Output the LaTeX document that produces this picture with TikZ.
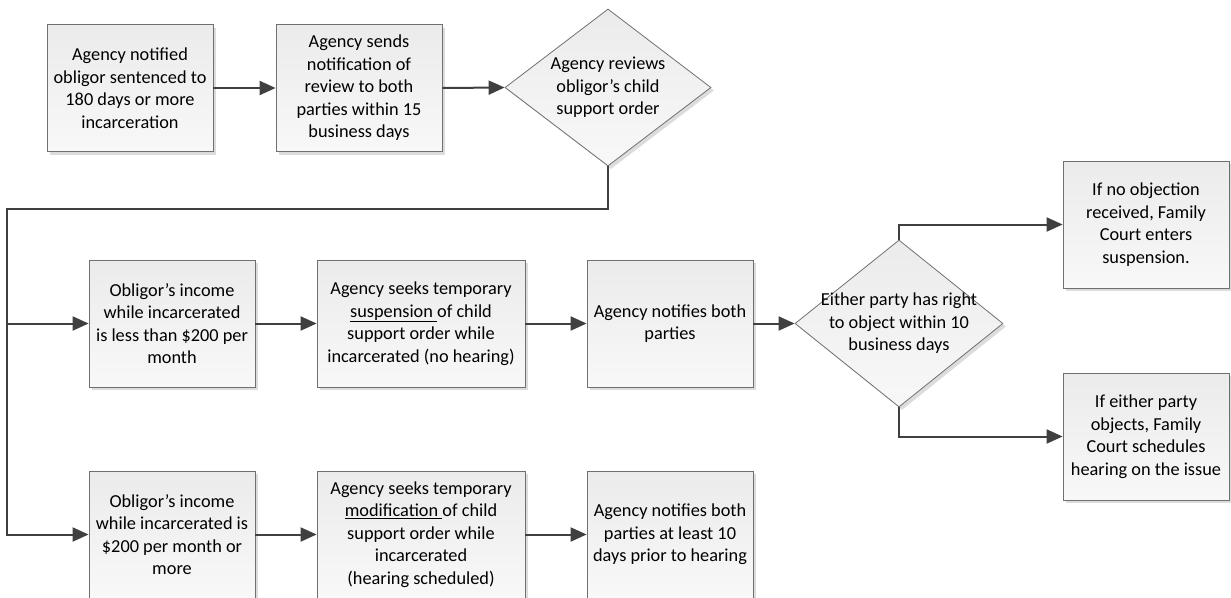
\documentclass[tikz,border=0pt]{standalone}
\usepackage{fontspec}
\setmainfont{Carlito}
\usetikzlibrary{shapes.geometric,shadows,arrows.meta}
\definecolor{conncol}{HTML}{404040}
\definecolor{edgecol}{HTML}{707070}
\definecolor{shadecol}{HTML}{DCDCDC}
\definecolor{filltop}{HTML}{EBEBEB}
\definecolor{fillbot}{HTML}{F8F8F8}
\tikzset{
  procbox/.style={rectangle, draw=edgecol, line width=0.8pt, top color=filltop, bottom color=fillbot,
    minimum width=166pt, minimum height=127pt, inner sep=0pt, align=center,
    drop shadow={shadow xshift=3pt, shadow yshift=-3pt, fill=shadecol, opacity=1}},
  widebox/.style={procbox, minimum width=208pt},
  decbox/.style={diamond, draw=edgecol, line width=0.8pt, top color=filltop, bottom color=fillbot,
    inner sep=0pt,
    drop shadow={shadow xshift=3pt, shadow yshift=-3pt, fill=shadecol, opacity=1}},
  labtxt/.style={align=center, inner sep=0pt},
  conn/.style={draw=conncol, line width=2pt, -{Triangle[length=16pt,width=14pt]}},
  plainconn/.style={draw=conncol, line width=2pt}
}
\begin{document}
\begin{tikzpicture}[x=1pt,y=-1pt,font=\fontsize{18.3}{22.5}\selectfont]
\useasboundingbox (0,0) rectangle (1231,597);
% top row
\node[procbox] (n1) at (130,88) {Agency notified\\obligor sentenced to\\180 days or more\\incarceration};
\node[procbox] (n2) at (359,88) {Agency sends\\notification of\\review to both\\parties within 15\\business days};
\node[decbox, minimum width=206pt, minimum height=157pt] (d1) at (608,87.5) {};
\node[labtxt] (d1t) at (d1.center) {Agency reviews\\obligor’s child\\support order};
% middle row
\node[procbox] (a1) at (172,323.5) {Obligor’s income\\while incarcerated\\is less than \$200 per\\month};
\node[widebox] (b1) at (421,323.5) {Agency seeks temporary\\\underline{suspension }of child\\support order while\\incarcerated (no hearing)};
\node[procbox] (c1) at (670,323.5) {Agency notifies both\\parties};
\node[decbox, minimum width=208pt, minimum height=167pt] (d2) at (899,323.5) {};
\node[labtxt] (d2t) at (d2.center) {Either party has right\\to object within 10\\business days};
\node[procbox] (e1) at (1146,224.5) {If no objection\\received, Family\\Court enters\\suspension.};
\node[procbox] (e2) at (1146,436.5) {If either party\\objects, Family\\Court schedules\\hearing on the issue};
% bottom row
\node[procbox] (a2) at (172,534.5) {Obligor’s income\\while incarcerated is\\\$200 per month or\\more};
\node[widebox] (b2) at (421,534.5) {Agency seeks temporary\\\underline{modification }of child\\support order while\\incarcerated\\(hearing scheduled)};
\node[procbox] (c2) at (670,534.5) {Agency notifies both\\parties at least 10\\days prior to hearing};
% connectors
\coordinate (trunk) at (7,209);
\draw[conn] (n1.east) -- (n2.west);
\draw[conn] (n2.east) -- (d1.west);
\draw[conn] (d1.south) |- (trunk) |- (a2.west);
\draw[conn] (trunk |- a1.west) -- (a1.west);
\draw[conn] (a1.east) -- (b1.west);
\draw[conn] (b1.east) -- (c1.west);
\draw[conn] (c1.east) -- (d2.west);
\draw[conn] (d2.north) |- (e1.west);
\draw[conn] (d2.south) |- (e2.west);
\draw[conn] (a2.east) -- (b2.west);
\draw[conn] (b2.east) -- (c2.west);
\end{tikzpicture}
\end{document}
